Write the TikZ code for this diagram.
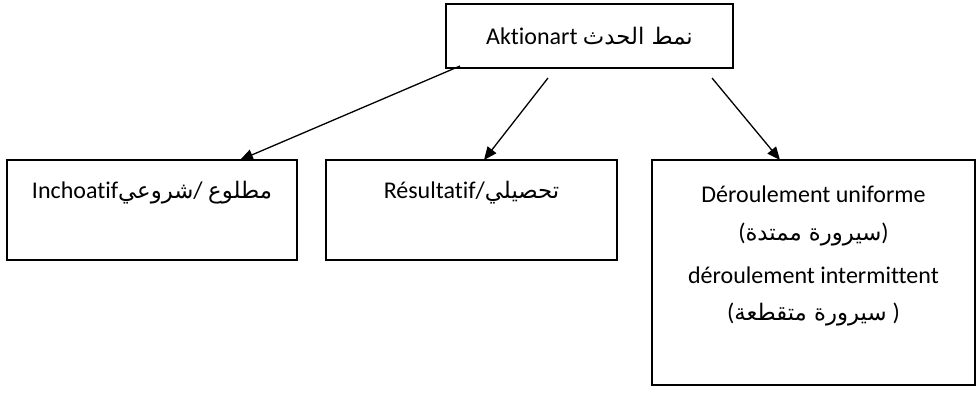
\documentclass[tikz,border=0pt]{standalone}
\usepackage{fontspec}
\setmainfont{Carlito}[Ligatures=NoCommon]
\newfontfamily\arabicfont[Script=Arabic,Scale=0.95]{DejaVu Sans}
\TeXXeTstate=1
\usetikzlibrary{arrows.meta}
\newcommand{\ar}[1]{{\arabicfont\beginR #1\endR}}
\begin{document}
\begin{tikzpicture}[x=1pt,y=-1pt,
  box/.style={draw,line width=1.8pt,rectangle,inner sep=0pt},
  lbl/.style={font=\fontsize{24}{28}\selectfont,inner sep=0pt,align=center},
  conn/.style={line width=1.3pt,-{Triangle[length=13pt,width=11pt]}}]
\useasboundingbox (0,0) rectangle (977,397);
% boxes
\node[box,minimum width=287pt,minimum height=64pt] (top) at (589.5,36) {};
\node[box,minimum width=290pt,minimum height=100pt] (left) at (152,210) {};
\node[box,minimum width=291pt,minimum height=100pt] (mid) at (471.5,210) {};
\node[box,minimum width=323pt,minimum height=225pt] (right) at (813.5,272.5) {};
% texts
\node[lbl] (ttop) at (589.5,36) {Aktionart \ar{نمط الحدث}};
\node[lbl] (tleft) at (152,193) {Inchoatif\ar{شروعي}/ \ar{مطلوع}};
\node[lbl] (tmid) at (471.5,193) {Résultatif/\ar{تحصيلي}};
\node[lbl] (tr1) at (813.5,194) {Déroulement uniforme};
\node[lbl] (tr2) at (813.5,234) {(\ar{سيرورة ممتدة})};
\node[lbl] (tr3) at (813.5,275) {déroulement intermittent};
\node[lbl] (tr4) at (813.5,314) {(\ar{سيرورة متقطعة}\hspace{6pt})};
% connectors
\coordinate (s1) at (460,66);
\coordinate (s2) at (548,78);
\coordinate (s3) at (712,78);
\coordinate (e1) at (240,160);
\coordinate (e2) at (484,160);
\coordinate (e3) at (780,160);
\draw[conn] (s1) -- (e1);
\draw[conn] (s2) -- (e2);
\draw[conn] (s3) -- (e3);
\end{tikzpicture}
\end{document}
